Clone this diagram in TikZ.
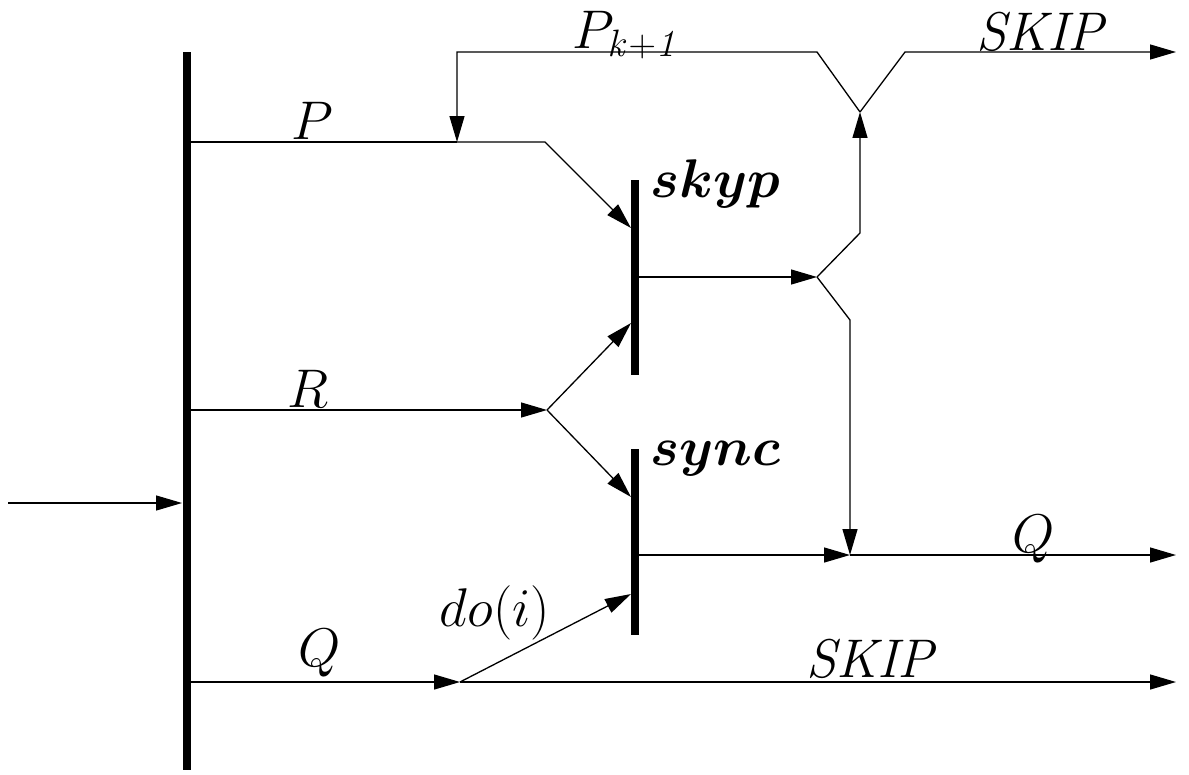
\documentclass[tikz,border=0pt]{standalone}
\usepackage{fix-cm}
\usepackage{bm}
\usetikzlibrary{arrows.meta}
\tikzset{
  bar/.style={line width=5pt},
  wire/.style={line width=0.75pt},
  arr/.style={wire, -{Triangle[length=0.52cm, width=0.3cm]}},
  lbl/.style={anchor=base, inner sep=0pt, font=\fontsize{31}{36}\selectfont},
}

\begin{document}
\begin{tikzpicture}[x=0.02cm, y=-0.02cm]
  \useasboundingbox (0,0) rectangle (1189,774);

  % Bars
  \coordinate (maintop) at (187,52);
  \coordinate (mainbot) at (187,770);
  \coordinate (skyptop) at (635,180);
  \coordinate (skypbot) at (635,375);
  \coordinate (synctop) at (635,449);
  \coordinate (syncbot) at (635,635);
  \draw[bar] (maintop) -- (mainbot);
  \draw[bar] (skyptop) -- (skypbot);
  \draw[bar] (synctop) -- (syncbot);

  % Junction points
  \coordinate (in)    at (8,503);
  \coordinate (inend) at (182,503);
  \coordinate (pjoin) at (457,142);
  \coordinate (rfork) at (547,410);
  \coordinate (qfork) at (460,682);
  \coordinate (sfork) at (817,277);
  \coordinate (ymeet) at (860,112);
  \coordinate (qmeet) at (850,555);
  \coordinate (topend) at (1176,52);
  \coordinate (qend)   at (1176,555);
  \coordinate (skend)  at (1176,682);

  % Input
  \draw[arr] (in) -- (inend);

  % P line into skyp
  \draw[wire] (191,142) -- (pjoin);
  \draw[arr] (pjoin) -- (545,142) -- (631,228);
  \node[lbl] (plbl) at (312,139) {$P$};

  % Feedback P_{k+1} and top SKIP
  \draw[arr] (ymeet) -- (817,52) -- (457,52) -- (pjoin);
  \draw[arr] (ymeet) -- (905,52) -- (topend);
  \node[lbl] (pklbl) at (627,48) {$P_{\mathit{k+1}}$};
  \node[lbl] (sktop) at (1043,51) {$\mathit{SKIP}$};

  % skyp output fork
  \draw[arr] (638,277) -- (sfork);
  \draw[arr] (sfork) -- (860,233) -- (ymeet);
  \draw[arr] (sfork) -- (850,320) -- (qmeet);
  \node[lbl, anchor=base west] (skyp) at (650,197) {$\bm{skyp}$};

  % R line and fork
  \draw[arr] (191,410) -- (rfork);
  \draw[arr] (rfork) -- (631,323);
  \draw[arr] (rfork) -- (631,497);
  \node[lbl] (rlbl) at (308,407) {$R$};

  % sync output
  \draw[arr] (638,555) -- (qmeet);
  \draw[arr] (qmeet) -- (qend);
  \node[lbl, anchor=base west] (sync) at (650,465) {$\bm{sync}$};
  \node[lbl] (qright) at (1034,552) {$Q$};

  % Q line, do(i) and bottom SKIP
  \draw[arr] (191,682) -- (qfork);
  \draw[arr] (qfork) -- (631,594);
  \draw[arr] (qfork) -- (skend);
  \node[lbl] (qlbl) at (320,666) {$Q$};
  \node[lbl] (dolbl) at (495,626) {$do(i)$};
  \node[lbl] (skbot) at (873,677) {$\mathit{SKIP}$};
\end{tikzpicture}
\end{document}
